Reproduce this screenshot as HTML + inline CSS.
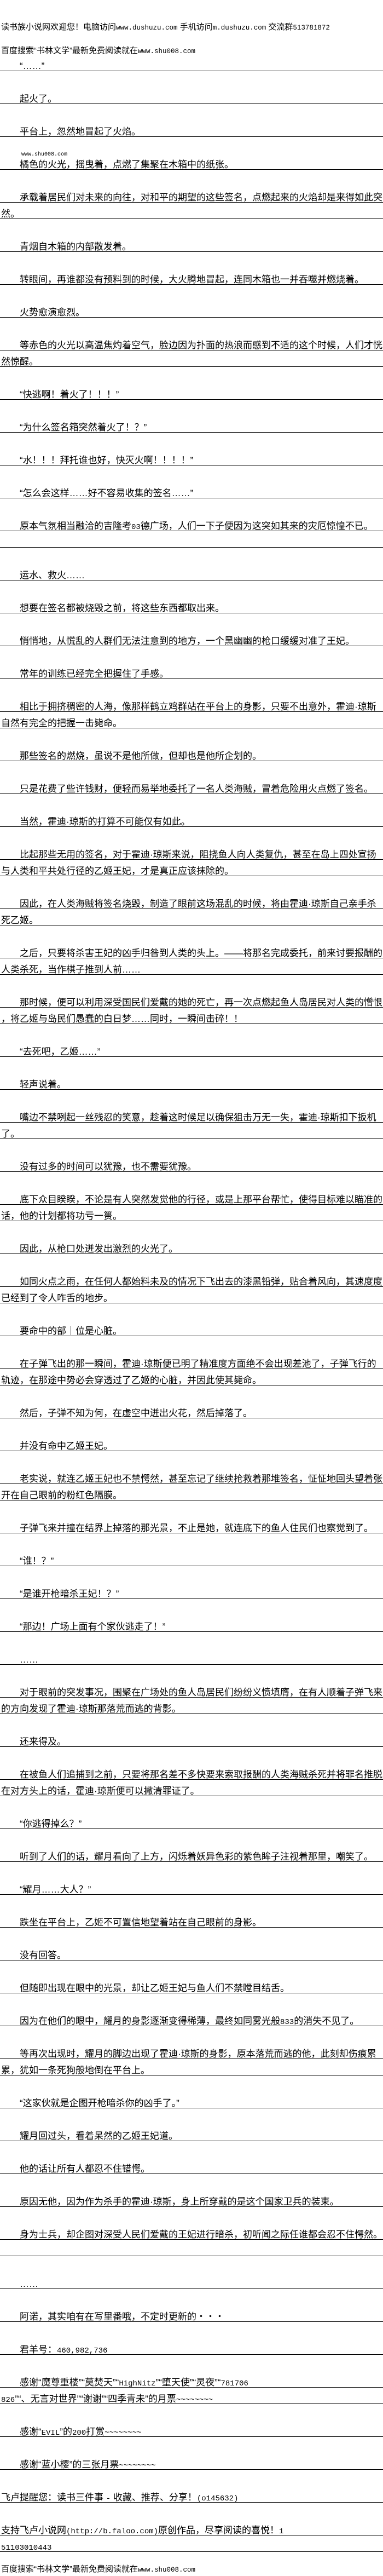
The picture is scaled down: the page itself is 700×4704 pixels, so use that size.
<!DOCTYPE html>
<html><head><meta charset="utf-8">
<style>
html,body{margin:0;padding:0;background:#fff;}
body{width:700px;height:4704px;position:relative;overflow:hidden;color:#000;
font-family:"Liberation Sans","Noto Sans CJK SC",sans-serif;}
.hd{position:absolute;left:2px;font-size:15px;line-height:16px;white-space:nowrap;}
.hd .m{font-family:"Liberation Mono",monospace;font-size:12.5px;}
#c{position:absolute;left:0;top:0;width:700px;padding-top:70px;}
.p{margin-top:30px;}
.l{padding-top:13px;height:16px;line-height:16px;border-bottom:1px solid #000;font-size:17px;white-space:nowrap;overflow:hidden;padding-left:2px;}
.i{text-indent:34px;}
.e{height:29px;border-bottom:1px solid #000;}
.m{font-family:"Liberation Mono",monospace;font-size:14px;}
.wm{position:absolute;left:39px;top:277px;font-family:"Liberation Mono",monospace;font-size:10px;line-height:12px;}
</style></head><body>
<div class="hd" style="top:42px">读书族小说网欢迎您！电脑访问<span class="m">www.dushuzu.com</span> 手机访问<span class="m">m.dushuzu.com</span> 交流群<span class="m">513781872</span></div>
<div class="hd" style="top:85px">百度搜索“书林文学”最新免费阅读就在<span class="m">www.shu008.com</span></div>
<div class="wm">www.shu008.com</div>
<div id="c">
<div class="p"><div class="l i">“……”</div></div>
<div class="p"><div class="l i">起火了。</div></div>
<div class="p"><div class="l i">平台上，忽然地冒起了火焰。</div></div>
<div class="p"><div class="l i">橘色的火光，摇曳着，点燃了集聚在木箱中的纸张。</div></div>
<div class="p"><div class="l i">承载着居民们对未来的向往，对和平的期望的这些签名，点燃起来的火焰却是来得如此突</div><div class="l">然。</div></div>
<div class="p"><div class="l i">青烟自木箱的内部散发着。</div></div>
<div class="p"><div class="l i">转眼间，再谁都没有预料到的时候，大火腾地冒起，连同木箱也一并吞噬并燃烧着。</div></div>
<div class="p"><div class="l i">火势愈演愈烈。</div></div>
<div class="p"><div class="l i">等赤色的火光以高温焦灼着空气，脸边因为扑面的热浪而感到不适的这个时候，人们才恍</div><div class="l">然惊醒。</div></div>
<div class="p"><div class="l i">“快逃啊！着火了！！！”</div></div>
<div class="p"><div class="l i">“为什么签名箱突然着火了！？”</div></div>
<div class="p"><div class="l i">“水！！！拜托谁也好，快灭火啊！！！！”</div></div>
<div class="p"><div class="l i">“怎么会这样……好不容易收集的签名……”</div></div>
<div class="p"><div class="l i">原本气氛相当融洽的吉隆考<span class="m">03</span>德广场，人们一下子便因为这突如其来的灾厄惊惶不已。</div></div>
<div class="e"></div>
<div class="p"><div class="l i">运水、救火……</div></div>
<div class="p"><div class="l i">想要在签名都被烧毁之前，将这些东西都取出来。</div></div>
<div class="p"><div class="l i">悄悄地，从慌乱的人群们无法注意到的地方，一个黑幽幽的枪口缓缓对准了王妃。</div></div>
<div class="p"><div class="l i">常年的训练已经完全把握住了手感。</div></div>
<div class="p"><div class="l i">相比于拥挤稠密的人海，像那样鹤立鸡群站在平台上的身影，只要不出意外，霍迪·琼斯</div><div class="l">自然有完全的把握一击毙命。</div></div>
<div class="p"><div class="l i">那些签名的燃烧，虽说不是他所做，但却也是他所企划的。</div></div>
<div class="p"><div class="l i">只是花费了些许钱财，便轻而易举地委托了一名人类海贼，冒着危险用火点燃了签名。</div></div>
<div class="p"><div class="l i">当然，霍迪·琼斯的打算不可能仅有如此。</div></div>
<div class="p"><div class="l i">比起那些无用的签名，对于霍迪·琼斯来说，阻挠鱼人向人类复仇，甚至在岛上四处宣扬</div><div class="l">与人类和平共处行径的乙姬王妃，才是真正应该抹除的。</div></div>
<div class="p"><div class="l i">因此，在人类海贼将签名烧毁，制造了眼前这场混乱的时候，将由霍迪·琼斯自己亲手杀</div><div class="l">死乙姬。</div></div>
<div class="p"><div class="l i">之后，只要将杀害王妃的凶手归咎到人类的头上。——将那名完成委托，前来讨要报酬的</div><div class="l">人类杀死，当作棋子推到人前……</div></div>
<div class="p"><div class="l i">那时候，便可以利用深受国民们爱戴的她的死亡，再一次点燃起鱼人岛居民对人类的憎恨</div><div class="l">，将乙姬与岛民们愚蠢的白日梦……同时，一瞬间击碎！！</div></div>
<div class="p"><div class="l i">“去死吧，乙姬……”</div></div>
<div class="p"><div class="l i">轻声说着。</div></div>
<div class="p"><div class="l i">嘴边不禁咧起一丝残忍的笑意，趁着这时候足以确保狙击万无一失，霍迪·琼斯扣下扳机</div><div class="l">了。</div></div>
<div class="p"><div class="l i">没有过多的时间可以犹豫，也不需要犹豫。</div></div>
<div class="p"><div class="l i">底下众目睽睽，不论是有人突然发觉他的行径，或是上那平台帮忙，使得目标难以瞄准的</div><div class="l">话，他的计划都将功亏一篑。</div></div>
<div class="p"><div class="l i">因此，从枪口处迸发出激烈的火光了。</div></div>
<div class="p"><div class="l i">如同火点之雨，在任何人都始料未及的情况下飞出去的漆黑铅弹，贴合着风向，其速度度</div><div class="l">已经到了令人咋舌的地步。</div></div>
<div class="p"><div class="l i">要命中的部｜位是心脏。</div></div>
<div class="p"><div class="l i">在子弹飞出的那一瞬间，霍迪·琼斯便已明了精准度方面绝不会出现差池了，子弹飞行的</div><div class="l">轨迹，在那途中势必会穿透过了乙姬的心脏，并因此使其毙命。</div></div>
<div class="p"><div class="l i">然后，子弹不知为何，在虚空中迸出火花，然后掉落了。</div></div>
<div class="p"><div class="l i">并没有命中乙姬王妃。</div></div>
<div class="p"><div class="l i">老实说，就连乙姬王妃也不禁愕然，甚至忘记了继续抢救着那堆签名，怔怔地回头望着张</div><div class="l">开在自己眼前的粉红色隔膜。</div></div>
<div class="p"><div class="l i">子弹飞来并撞在结界上掉落的那光景，不止是她，就连底下的鱼人住民们也察觉到了。</div></div>
<div class="p"><div class="l i">“谁！？”</div></div>
<div class="p"><div class="l i">“是谁开枪暗杀王妃！？”</div></div>
<div class="p"><div class="l i">“那边！广场上面有个家伙逃走了！”</div></div>
<div class="p"><div class="l i">……</div></div>
<div class="p"><div class="l i">对于眼前的突发事况，围聚在广场处的鱼人岛居民们纷纷义愤填膺，在有人顺着子弹飞来</div><div class="l">的方向发现了霍迪·琼斯那落荒而逃的背影。</div></div>
<div class="p"><div class="l i">还来得及。</div></div>
<div class="p"><div class="l i">在被鱼人们追捕到之前，只要将那名差不多快要来索取报酬的人类海贼杀死并将罪名推脱</div><div class="l">在对方头上的话，霍迪·琼斯便可以撇清罪证了。</div></div>
<div class="p"><div class="l i">“你逃得掉么？”</div></div>
<div class="p"><div class="l i">听到了人们的话，耀月看向了上方，闪烁着妖异色彩的紫色眸子注视着那里，嘲笑了。</div></div>
<div class="p"><div class="l i">“耀月……大人？”</div></div>
<div class="p"><div class="l i">跌坐在平台上，乙姬不可置信地望着站在自己眼前的身影。</div></div>
<div class="p"><div class="l i">没有回答。</div></div>
<div class="p"><div class="l i">但随即出现在眼中的光景，却让乙姬王妃与鱼人们不禁瞠目结舌。</div></div>
<div class="p"><div class="l i">因为在他们的眼中，耀月的身影逐渐变得稀薄，最终如同雾光般<span class="m">833</span>的消失不见了。</div></div>
<div class="p"><div class="l i">等再次出现时，耀月的脚边出现了霍迪·琼斯的身影，原本落荒而逃的他，此刻却伤痕累</div><div class="l">累，犹如一条死狗般地倒在平台上。</div></div>
<div class="p"><div class="l i">“这家伙就是企图开枪暗杀你的凶手了。”</div></div>
<div class="p"><div class="l i">耀月回过头，看着呆然的乙姬王妃道。</div></div>
<div class="p"><div class="l i">他的话让所有人都忍不住错愕。</div></div>
<div class="p"><div class="l i">原因无他，因为作为杀手的霍迪·琼斯，身上所穿戴的是这个国家卫兵的装束。</div></div>
<div class="p"><div class="l i">身为士兵，却企图对深受人民们爱戴的王妃进行暗杀，初听闻之际任谁都会忍不住愕然。</div></div>
<div class="e"></div>
<div class="p"><div class="l i">……</div></div>
<div class="p"><div class="l i">阿诺，其实咱有在写里番哦，不定时更新的・・・</div></div>
<div class="p"><div class="l i">君羊号：<span class="m">460,982,736</span></div></div>
<div class="p"><div class="l i">感谢“魔尊重楼”“莫焚天”“<span class="m">HighNitz</span>”“堕天使”“灵夜”“<span class="m">781706</span></div><div class="l"><span class="m">826</span>”“、无言对世界”“谢谢”“四季青未”的月票<span class="m">~~~~~~~~</span></div></div>
<div class="p"><div class="l i">感谢“<span class="m">EVIL</span>”的<span class="m">200</span>打赏<span class="m">~~~~~~~~</span></div></div>
<div class="p"><div class="l i">感谢“蓝小樱”的三张月票<span class="m">~~~~~~~~</span></div></div>
<div class="p"><div class="l">飞卢提醒您：读书三件事 <span class="m">-</span> 收藏、推荐、分享！<span class="m">(o145632)</span></div></div>
<div class="p"><div class="l">支持飞卢小说网<span class="m">(http://b.faloo.com)</span>原创作品，尽享阅读的喜悦！<span class="m">1</span></div><div class="l"><span class="m">51103010443</span></div></div>
</div>
<div class="hd" style="top:4684px">百度搜索“书林文学”最新免费阅读就在<span class="m">www.shu008.com</span></div>
</body></html>
